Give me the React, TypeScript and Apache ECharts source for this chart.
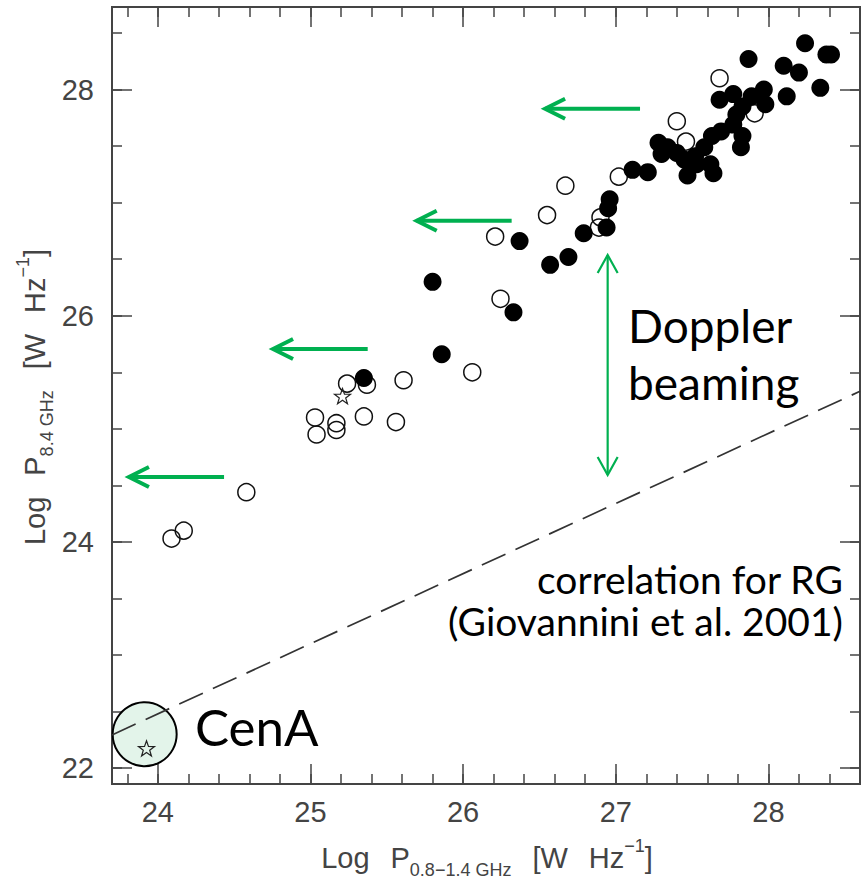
import React, { useEffect, useRef } from "react";
import * as echarts from "echarts";

// ---------- data ----------
const X_RANGE = [23.7, 28.6];
const Y_RANGE = [21.86, 28.73];
const X_TICK_LABELS = ["24", "25", "26", "27", "28"];
const Y_TICK_LABELS = ["22", "24", "26", "28"];

const OPEN_CIRCLES: number[][] = [
  [24.09, 24.03], [24.17, 24.1], [24.58, 24.44], [25.03, 25.1], [25.04, 24.95],
  [25.17, 25.05], [25.17, 24.99], [25.35, 25.11], [25.56, 25.06], [25.24, 25.4],
  [25.37, 25.39], [25.61, 25.43], [26.06, 25.5], [26.245, 26.15], [26.21, 26.7],
  [26.55, 26.89], [26.67, 27.15], [26.89, 26.78], [26.9, 26.87], [27.02, 27.23],
  [27.4, 27.72], [27.46, 27.54], [27.68, 28.1], [27.91, 27.79],
];

const FILLED_CIRCLES: number[][] = [
  [25.35, 25.45], [25.86, 25.66], [25.8, 26.3], [26.33, 26.03], [26.37, 26.66],
  [26.57, 26.45], [26.69, 26.52], [26.79, 26.73], [26.94, 26.78], [26.95, 26.95],
  [26.96, 27.03], [27.11, 27.29], [27.21, 27.27], [27.28, 27.53], [27.34, 27.49],
  [27.3, 27.43], [27.4, 27.44], [27.45, 27.38], [27.52, 27.41], [27.47, 27.24],
  [27.53, 27.34], [27.58, 27.49], [27.63, 27.59], [27.69, 27.63], [27.64, 27.26],
  [27.62, 27.34], [27.77, 27.69], [27.83, 27.59], [27.82, 27.49], [27.79, 27.78],
  [27.83, 27.85], [27.68, 27.91], [27.77, 27.96], [27.89, 27.94], [27.97, 28.0],
  [27.98, 27.87], [28.12, 27.94], [27.87, 28.27], [28.1, 28.21], [28.2, 28.15],
  [28.24, 28.41], [28.38, 28.31], [28.41, 28.31], [28.34, 28.015],
];

const STARS: number[][] = [[25.21, 25.29], [23.926, 22.175]];
const CENA_CIRCLE: number[][] = [[23.914, 22.3]];
const RG_CORRELATION: number[][] = [[23.7, 22.294], [28.6, 25.332]];

// arrows: [tailX, tailY, tipX, tipY]
const LEFT_ARROWS: number[][] = [
  [27.159, 27.83, 26.537, 27.83],
  [26.318, 26.84, 25.696, 26.84],
  [25.375, 25.706, 24.755, 25.706],
  [24.434, 24.574, 23.811, 24.574],
];
const DOPPLER_ARROW: number[][] = [[26.947, 24.592, 26.947, 26.537]];

// ---------- layout ----------
const W = 868;
const H = 881;
const PL = 112;
const PR = 860;
const PT = 7;
const PB = 784;
const px = (v: number) => PL + ((v - X_RANGE[0]) * (PR - PL)) / (X_RANGE[1] - X_RANGE[0]);
const py = (v: number) => PT + ((Y_RANGE[1] - v) * (PB - PT)) / (Y_RANGE[1] - Y_RANGE[0]);

const AX = "#444";
const TICK_FONT = "'Liberation Sans', Arial, Helvetica, sans-serif";
const NOTE_FONT = "Lato, Carlito, 'Noto Sans', sans-serif";
const GREEN = "#00b050";

const STAR_PATH =
  "path://M0,-10L2.35,-3.24L9.51,-3.09L3.8,1.24L5.88,8.09L0,4L-5.88,8.09L-3.8,1.24L-9.51,-3.09L-2.35,-3.24Z";

function makeArrow(lineWidth: number, headLen: number, headHalf: number, double: boolean) {
  return (params: any, api: any) => {
    const p1 = api.coord([api.value(0), api.value(1)]);
    const p2 = api.coord([api.value(2), api.value(3)]);
    const dx = p2[0] - p1[0];
    const dy = p2[1] - p1[1];
    const len = Math.hypot(dx, dy) || 1;
    const ux = dx / len;
    const uy = dy / len;
    const nx = -uy;
    const ny = ux;
    const head = (tip: number[], sx: number, sy: number) => ({
      type: "polyline",
      shape: {
        points: [
          [tip[0] - sx * headLen + nx * headHalf, tip[1] - sy * headLen + ny * headHalf],
          [tip[0], tip[1]],
          [tip[0] - sx * headLen - nx * headHalf, tip[1] - sy * headLen - ny * headHalf],
        ],
      },
      style: { stroke: GREEN, lineWidth, fill: "none" },
    });
    const children: any[] = [
      {
        type: "line",
        shape: { x1: p1[0], y1: p1[1], x2: p2[0], y2: p2[1] },
        style: { stroke: GREEN, lineWidth },
      },
      head(p2, ux, uy),
    ];
    if (double) children.push(head(p1, -ux, -uy));
    return { type: "group", children };
  };
}

const tickStyle = { color: AX, width: 1.5 };
const hiddenAxis = (gridIndex: number) => ({
  type: "value",
  gridIndex,
  min: 0,
  max: 1,
  show: false,
});
const tickAxis = (
  gridIndex: number,
  position: string,
  min: number,
  max: number,
  interval: number,
  length: number,
  labels: string[] | null,
  margin: number
) => ({
  type: "value",
  gridIndex,
  position,
  min,
  max,
  interval,
  axisLine: { show: false },
  splitLine: { show: false },
  axisTick: { show: true, inside: true, length, lineStyle: tickStyle },
  axisLabel: labels
    ? {
        show: true,
        margin,
        color: AX,
        fontSize: 29,
        fontFamily: TICK_FONT,
        formatter: (v: number) => {
          const s = String(Math.round(v));
          return labels.indexOf(s) >= 0 ? s : "";
        },
      }
    : { show: false },
});

export default function App() {
  const ref = useRef<HTMLDivElement>(null);

  useEffect(() => {
    document.body.style.margin = "0";
    if (!ref.current) return;
    const chart = echarts.init(ref.current, null, { renderer: "svg" });

    const titleRich = {
      m: { fontSize: 29, lineHeight: 42, fontFamily: TICK_FONT, fill: AX, color: AX, verticalAlign: "middle" },
      s: { fontSize: 18, lineHeight: 18, fontFamily: TICK_FONT, fill: AX, color: AX, verticalAlign: "bottom" },
      u: { fontSize: 18, lineHeight: 31, fontFamily: TICK_FONT, fill: AX, color: AX, verticalAlign: "top" },
      g: { fontSize: 29, lineHeight: 42, width: 21, fontFamily: TICK_FONT },
    };

    const option: any = {
      animation: false,
      backgroundColor: "#fff",
      grid: [
        { left: PL, right: W - PR, top: PT, bottom: H - PB, show: true, borderColor: AX, borderWidth: 2, backgroundColor: "transparent" },
        { left: px(23.8), right: W - px(28.4), top: PT, bottom: H - PB },
        { left: px(24), right: W - px(28), top: PT, bottom: H - PB },
        { left: PL, right: W - PR, top: py(28.5), bottom: H - py(22) },
        { left: PL, right: W - PR, top: py(28), bottom: H - py(22) },
      ],
      xAxis: [
        { type: "value", gridIndex: 0, min: X_RANGE[0], max: X_RANGE[1], show: false },
        tickAxis(1, "bottom", 23.8, 28.4, 0.2, 10, null, 0),
        tickAxis(1, "top", 23.8, 28.4, 0.2, 10, null, 0),
        tickAxis(2, "bottom", 24, 28, 1, 20, X_TICK_LABELS, 13),
        tickAxis(2, "top", 24, 28, 1, 20, null, 0),
        hiddenAxis(3),
        hiddenAxis(4),
      ],
      yAxis: [
        { type: "value", gridIndex: 0, min: Y_RANGE[0], max: Y_RANGE[1], show: false },
        hiddenAxis(1),
        hiddenAxis(2),
        tickAxis(3, "left", 22, 28.5, 0.5, 10, null, 0),
        tickAxis(3, "right", 22, 28.5, 0.5, 10, null, 0),
        tickAxis(4, "left", 22, 28, 2, 20, Y_TICK_LABELS, 18),
        tickAxis(4, "right", 22, 28, 2, 20, null, 0),
      ],
      series: [
        {
          type: "scatter",
          name: "CenA",
          xAxisIndex: 0,
          yAxisIndex: 0,
          data: CENA_CIRCLE,
          symbol: "circle",
          symbolSize: 64,
          itemStyle: { color: "#e3f4ea", borderColor: "#000", borderWidth: 2, opacity: 1 },
          z: 1,
          silent: true,
        },
        {
          type: "line",
          name: "RG correlation",
          xAxisIndex: 0,
          yAxisIndex: 0,
          data: RG_CORRELATION,
          showSymbol: false,
          symbol: "none",
          lineStyle: { color: "#333", width: 1.7, type: [26, 11] },
          z: 2,
          silent: true,
        },
        {
          type: "scatter",
          name: "open",
          xAxisIndex: 0,
          yAxisIndex: 0,
          data: OPEN_CIRCLES,
          symbol: "circle",
          symbolSize: 17,
          itemStyle: { color: "rgba(0,0,0,0)", borderColor: "#111", borderWidth: 1.5, opacity: 1 },
          z: 3,
        },
        {
          type: "scatter",
          name: "filled",
          xAxisIndex: 0,
          yAxisIndex: 0,
          data: FILLED_CIRCLES,
          symbol: "circle",
          symbolSize: 18,
          itemStyle: { color: "#000", opacity: 1 },
          z: 4,
        },
        {
          type: "scatter",
          name: "stars",
          xAxisIndex: 0,
          yAxisIndex: 0,
          data: STARS,
          symbol: STAR_PATH,
          symbolKeepAspect: true,
          symbolSize: 16,
          itemStyle: { color: "rgba(0,0,0,0)", borderColor: "#222", borderWidth: 1.2, opacity: 1 },
          z: 5,
        },
        {
          type: "custom",
          name: "left arrows",
          xAxisIndex: 0,
          yAxisIndex: 0,
          data: LEFT_ARROWS,
          renderItem: makeArrow(4, 20, 10, false),
          z: 6,
          silent: true,
        },
        {
          type: "custom",
          name: "doppler arrow",
          xAxisIndex: 0,
          yAxisIndex: 0,
          data: DOPPLER_ARROW,
          renderItem: makeArrow(2.2, 18, 10, true),
          z: 6,
          silent: true,
        },
      ],
      graphic: [
        {
          type: "text",
          x: 628,
          y: 354,
          z: 100,
          style: {
            text: "Doppler\nbeaming",
            fontFamily: NOTE_FONT,
            fontSize: 46,
            lineHeight: 57,
            fill: "#000",
            textAlign: "left",
            align: "left",
            textVerticalAlign: "middle",
            verticalAlign: "middle",
          },
        },
        {
          type: "text",
          x: 843,
          y: 600,
          z: 100,
          style: {
            text: "correlation for RG\n(Giovannini et al. 2001)",
            fontFamily: NOTE_FONT,
            fontSize: 39,
            lineHeight: 42,
            fill: "#000",
            textAlign: "right",
            align: "right",
            textVerticalAlign: "middle",
            verticalAlign: "middle",
          },
        },
        {
          type: "text",
          x: 195,
          y: 726,
          z: 100,
          style: {
            text: "CenA",
            fontFamily: NOTE_FONT,
            fontSize: 51,
            fill: "#000",
            textAlign: "left",
            align: "left",
            textVerticalAlign: "middle",
            verticalAlign: "middle",
          },
        },
        {
          type: "text",
          x: 487,
          y: 858,
          z: 100,
          style: {
            text: "{m|Log}{g|\u00a0}{m|P}{s|0.8\u22121.4 GHz}{g|\u00a0}{m|[W}{g|\u00a0}{m|Hz}{u|\u22121}{m|]}",
            rich: titleRich,
            fontFamily: TICK_FONT,
            fontSize: 29,
            fill: AX,
            textAlign: "center",
            align: "center",
            textVerticalAlign: "middle",
            verticalAlign: "middle",
          },
        },
        {
          type: "text",
          x: 35,
          y: 397,
          rotation: Math.PI / 2,
          z: 100,
          style: {
            text: "{m|Log}{g|\u00a0}{m|P}{s|8.4 GHz}{g|\u00a0}{m|[W}{g|\u00a0}{m|Hz}{u|\u22121}{m|]}",
            rich: titleRich,
            fontFamily: TICK_FONT,
            fontSize: 29,
            fill: AX,
            textAlign: "center",
            align: "center",
            textVerticalAlign: "middle",
            verticalAlign: "middle",
          },
        },
      ],
    };

    chart.setOption(option);
    return () => chart.dispose();
  }, []);

  return <div ref={ref} style={{ width: W, height: H }} />;
}
